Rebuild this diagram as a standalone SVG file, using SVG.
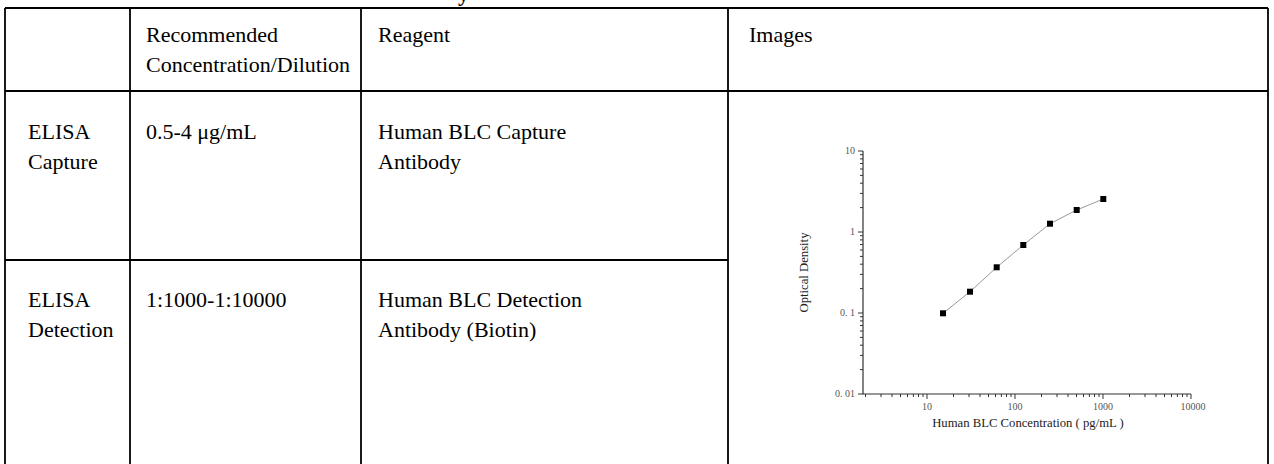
<svg xmlns="http://www.w3.org/2000/svg" width="1274" height="464" viewBox="0 0 1274 464">
<style>
.cell{font-family:"Liberation Serif","Times New Roman",serif;font-size:22px;fill:#000}
.grid{stroke:#000;stroke-width:1.8;fill:none}
.ax{stroke:#333;stroke-width:1.2;fill:none}
.tk{stroke:#333;stroke-width:1;fill:none}
.tl{font-family:"Liberation Serif","Times New Roman",serif;font-size:10px;fill:#555}
.at{font-family:"Liberation Serif","Times New Roman",serif;font-size:12.7px;fill:#222}
.pt{fill:#000}
.curve{stroke:#999;stroke-width:1;fill:none}
</style>
<rect width="1274" height="464" fill="#fff"/>
<text x="458" y="1" style="font-family:'Liberation Serif',serif;font-size:22px;font-weight:bold">y</text>
<g id="grid" class="grid">
<line x1="5" y1="8" x2="1268" y2="8"/>
<line x1="5" y1="91" x2="1268" y2="91"/>
<line x1="5" y1="260" x2="728" y2="260"/>
<line x1="5" y1="8" x2="5" y2="464"/>
<line x1="130" y1="8" x2="130" y2="464"/>
<line x1="361" y1="8" x2="361" y2="464"/>
<line x1="728" y1="8" x2="728" y2="464"/>
<line x1="1268" y1="8" x2="1268" y2="464"/>
</g>
<g id="header">
<text class="cell" x="146" y="42">Recommended</text>
<text class="cell" x="146" y="72">Concentration/Dilution</text>
<text class="cell" x="378" y="42">Reagent</text>
<text class="cell" x="749" y="42">Images</text>
</g>
<g id="row-capture">
<text class="cell" x="28" y="139">ELISA</text>
<text class="cell" x="28" y="169">Capture</text>
<text class="cell" x="146" y="139">0.5-4 μg/mL</text>
<text class="cell" x="378" y="139">Human BLC Capture</text>
<text class="cell" x="378" y="169">Antibody</text>
</g>
<g id="row-detection">
<text class="cell" x="28" y="307">ELISA</text>
<text class="cell" x="28" y="337">Detection</text>
<text class="cell" x="146" y="307">1:1000-1:10000</text>
<text class="cell" x="378" y="307">Human BLC Detection</text>
<text class="cell" x="378" y="337">Antibody (Biotin)</text>
</g>
<g id="chart">
<path class="ax" d="M863 151 V394 H1191"/>
<path class="tk" d="M858 151H863M858 232H863M858 313H863M858 394H863"/>
<path class="tk" d="M860 369.6H863M860 355.4H863M860 345.2H863M860 337.4H863M860 331H863M860 325.5H863M860 320.9H863M860 316.7H863M860 288.6H863M860 274.4H863M860 264.2H863M860 256.4H863M860 250H863M860 244.5H863M860 239.9H863M860 235.7H863M860 207.6H863M860 193.4H863M860 183.2H863M860 175.4H863M860 169H863M860 163.5H863M860 158.9H863M860 154.7H863"/>
<path class="tk" d="M927 394V399M1015 394V399M1103 394V399M1191 394V399"/>
<path class="tk" d="M865.5 394V397M881 394V397M892 394V397M900.5 394V397M907.5 394V397M913.4 394V397M918.5 394V397M923 394V397M953.5 394V397M969 394V397M980 394V397M988.5 394V397M995.5 394V397M1001.4 394V397M1006.5 394V397M1011 394V397M1041.5 394V397M1057 394V397M1068 394V397M1076.5 394V397M1083.5 394V397M1089.4 394V397M1094.5 394V397M1099 394V397M1129.5 394V397M1145 394V397M1156 394V397M1164.5 394V397M1171.5 394V397M1177.4 394V397M1182.5 394V397M1187 394V397"/>
<text class="tl" x="855" y="154" text-anchor="end">10</text>
<text class="tl" x="855" y="235" text-anchor="end">1</text>
<text class="tl" x="855" y="316" text-anchor="end">0. 1</text>
<text class="tl" x="855" y="397" text-anchor="end">0. 01</text>
<text class="tl" x="927" y="410" text-anchor="middle">10</text>
<text class="tl" x="1015" y="410" text-anchor="middle">100</text>
<text class="tl" x="1103" y="410" text-anchor="middle">1000</text>
<text class="tl" x="1193" y="410" text-anchor="middle">10000</text>
<text class="at" x="1028" y="427" text-anchor="middle">Human BLC Concentration ( pg/mL )</text>
<text class="at" transform="translate(808 272.5) rotate(-90)" text-anchor="middle">Optical Density</text>
<path class="curve" d="M943 313.3 L970 291.7 L996.7 267.3 L1023.3 245 L1050 223.7 L1076.7 210 L1103.3 199"/>
<rect class="pt" x="940" y="310.3" width="6" height="6"/>
<rect class="pt" x="967" y="288.7" width="6" height="6"/>
<rect class="pt" x="993.7" y="264.3" width="6" height="6"/>
<rect class="pt" x="1020.3" y="242" width="6" height="6"/>
<rect class="pt" x="1047" y="220.7" width="6" height="6"/>
<rect class="pt" x="1073.7" y="207" width="6" height="6"/>
<rect class="pt" x="1100.3" y="196" width="6" height="6"/>
</g>
</svg>
